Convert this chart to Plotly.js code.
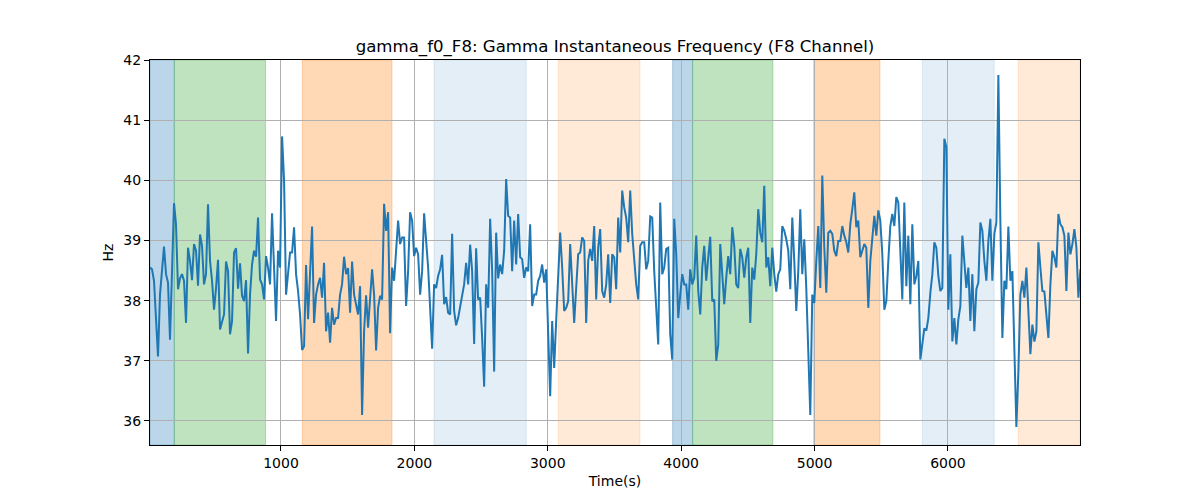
<!DOCTYPE html>
<html>
<head>
<meta charset="utf-8">
<script src="https://cdn.plot.ly/plotly-3.0.1.min.js"></script>
<style>
	html, body { margin: 0; padding: 0; background: #fff; }
	#chart { width: 1200px; height: 500px; }
</style>
</head>
<body>
<div id="chart"></div>
<script>
// time axis: first sample and sample step (s)
const timeStart = 18;
const timeStep = 15;

// gamma instantaneous frequency, F8 channel (Hz)
const freqHz = [
	// 18 .. 918
	38.55, 38.52, 38.33, 37.66, 37.07, 38.1, 38.55, 38.9, 38.44, 38.3,
	37.35, 38.44, 39.62, 39.27, 38.19, 38.37, 38.44, 38.33, 37.63, 38.88,
	38.66, 38.34, 38.94, 38.83, 38.25, 39.1, 38.91, 38.27, 38.44, 39.6,
	38.66, 38.33, 37.85, 38.21, 38.68, 37.52, 37.66, 37.77, 38.65, 38.49,
	37.44, 37.66, 38.8, 38.87, 38.2, 38.62, 38.08, 37.99, 38.34, 37.12,
	38.1, 38.6, 38.83, 38.73, 39.38, 38.35, 38.27, 38.02, 38.74, 38.55,
	38.27,
	// 933 .. 1818
	39.45, 38.55, 37.66, 38.83, 38.55, 40.73, 40.0, 38.1, 38.44, 38.8,
	38.8, 39.22, 38.44, 38.16, 37.77, 37.18, 37.24, 38.59, 37.69, 38.49,
	39.23, 37.63, 38.1, 38.27, 38.38, 38.05, 38.63, 37.49, 37.8, 37.3,
	37.88, 37.6, 37.71, 37.71, 38.1, 38.27, 38.73, 38.44, 38.54, 37.8,
	38.65, 38.1, 37.96, 37.77, 38.24, 36.1, 37.49, 38.09, 37.55, 38.1,
	38.52, 38.1, 37.17, 37.88, 38.08, 38.02, 39.61, 39.16, 39.47, 37.46,
	// 1833 .. 2718
	38.55, 38.33, 38.88, 39.33, 38.94, 39.05, 39.05, 37.91, 38.49, 39.47,
	39.33, 38.74, 38.88, 38.77, 38.1, 38.49, 39.45, 38.99, 38.55, 37.88,
	37.2, 38.27, 38.21, 38.41, 38.52, 38.76, 37.94, 38.06, 37.8, 37.77,
	39.11, 37.83, 37.59, 37.71, 37.91, 38.13, 38.27, 38.63, 38.27, 38.93,
	38.49, 37.28, 38.87, 38.02, 38.05, 37.38, 36.57, 38.27, 37.88, 39.36,
	38.49, 36.82, 39.13, 38.37, 38.6, 38.44, 38.83, 40.02, 39.41, 39.38,
	// 2733 .. 3603
	38.49, 39.33, 38.6, 39.44, 38.72, 38.69, 38.38, 38.55, 38.49, 39.27,
	37.91, 38.1, 38.1, 38.33, 38.41, 38.6, 38.3, 38.52, 37.55, 36.41,
	37.66, 36.88, 37.66, 38.55, 39.13, 38.55, 37.83, 37.88, 37.99, 38.94,
	38.21, 37.63, 38.21, 38.77, 38.8, 39.05, 38.99, 37.63, 38.66, 38.86,
	38.66, 39.24, 38.02, 38.88, 39.19, 38.16, 38.05, 38.27, 38.77, 37.96,
	38.77, 38.72, 38.19, 39.38, 38.8, 39.83, 39.55, 39.38, 38.97,
	// 3618 .. 4503
	39.83, 39.11, 38.66, 38.27, 38.02, 38.91, 38.97, 38.97, 38.52, 38.66,
	39.4, 39.38, 38.49, 37.77, 37.27, 39.63, 38.44, 38.55, 38.86, 38.88,
	37.44, 37.02, 39.36, 38.77, 37.71, 38.1, 38.44, 38.27, 38.27, 37.85,
	38.52, 38.27, 38.38, 39.08, 38.16, 37.77, 38.55, 38.91, 38.33, 38.72,
	39.06, 37.99, 38.02, 37.0, 37.27, 38.94, 38.49, 37.94, 38.38, 38.74,
	38.44, 39.22, 38.91, 38.27, 38.21, 38.86, 38.72, 38.38, 38.72, 38.88,
	// 4518 .. 5403
	37.63, 38.55, 38.35, 38.77, 39.52, 39.13, 38.97, 39.91, 38.55, 38.72,
	38.24, 38.88, 38.44, 38.15, 38.44, 38.52, 39.24, 39.16, 39.02, 38.83,
	38.19, 39.38, 38.66, 37.83, 38.49, 39.52, 38.44, 39.02, 38.21, 36.99,
	36.1, 38.1, 37.96, 38.66, 39.24, 38.21, 40.08, 38.88, 38.13, 39.13,
	39.16, 39.11, 38.83, 38.74, 38.99, 38.99, 39.24, 39.08, 38.97, 38.8,
	39.27, 39.52, 39.8, 39.22, 39.33, 38.72, 38.83, 38.94, 38.88, 37.88,
	// 5418 .. 6318
	38.66, 38.99, 39.41, 39.08, 39.5, 39.33, 38.77, 37.85, 37.99, 38.66,
	39.24, 39.44, 39.24, 39.72, 39.63, 38.83, 38.02, 39.63, 38.24, 39.08,
	37.94, 39.27, 38.27, 38.41, 38.66, 37.02, 37.27, 37.54, 37.5, 37.71,
	38.13, 38.44, 38.97, 38.88, 38.41, 38.16, 38.21, 40.69, 40.55, 37.85,
	38.77, 37.32, 37.71, 37.27, 37.69, 37.91, 39.08, 38.66, 38.21, 38.55,
	37.66, 38.44, 37.49, 38.19, 38.3, 39.3, 39.16, 38.66, 38.33, 38.99,
	39.36,
	// 6333 .. 6993
	38.33, 39.11, 39.3, 41.75, 39.33, 37.38, 38.33, 38.19, 39.23, 38.33,
	38.49, 37.1, 35.9, 36.82, 38.1, 38.33, 38.05, 38.55, 37.83, 37.11,
	37.6, 37.32, 37.49, 38.97, 38.55, 38.16, 38.15, 37.77, 37.38, 38.27,
	38.83, 38.72, 38.55, 39.44, 39.27, 39.22, 39.08, 38.16, 39.13, 38.77,
	38.94, 39.19, 38.88, 38.05, 38.52
];

// shaded segments (start, end in s) and their kind
const spanStart = [18, 200, 1160, 2147, 3079, 3936, 4086, 4993, 5808, 6527];
const spanEnd = [200, 884, 1832, 2839, 3691, 4086, 4688, 5490, 6347, 6990];
const spanKind = ['blue', 'green', 'orange', 'paleBlue', 'paleOrange',
	'blue', 'green', 'orange', 'paleBlue', 'paleOrange'];

const spanColors = {
	blue: 'rgba(31,119,180,0.3)',
	green: 'rgba(44,160,44,0.3)',
	orange: 'rgba(255,127,14,0.3)',
	paleBlue: 'rgba(31,119,180,0.12)',
	paleOrange: 'rgba(255,127,14,0.16)',
};

const shapes = spanStart.map((x0, i) => ({
	type: 'rect',
	xref: 'x',
	yref: 'paper',
	x0: x0,
	x1: spanEnd[i],
	y0: 0,
	y1: 1,
	fillcolor: spanColors[spanKind[i]],
	line: { color: spanColors[spanKind[i]], width: 1 },
	layer: 'below',
}));

const trace = {
	type: 'scatter',
	mode: 'lines',
	x0: timeStart,
	dx: timeStep,
	y: freqHz,
	line: { color: '#1f77b4', width: 2 },
	hoverinfo: 'x+y',
	showlegend: false,
};

const axisFont = { family: 'DejaVu Sans, sans-serif', size: 14, color: '#000' };

const layout = {
	width: 1200,
	height: 500,
	margin: { l: 150, r: 120, t: 60, b: 55, pad: 0 },
	paper_bgcolor: '#fff',
	plot_bgcolor: '#fff',
	font: axisFont,
	showlegend: false,
	title: {
		text: 'gamma_f0_F8: Gamma Instantaneous Frequency (F8 Channel)',
		font: { family: 'DejaVu Sans, sans-serif', size: 16.6, color: '#000' },
		x: 0.5,
		xref: 'paper',
		y: 0.908,
		yref: 'container',
		yanchor: 'middle',
	},
	xaxis: {
		range: [18, 6990],
		tickvals: [1000, 2000, 3000, 4000, 5000, 6000],
		ticks: 'outside',
		ticklen: 5,
		tickwidth: 1,
		tickcolor: '#000',
		showgrid: true,
		gridcolor: '#b0b0b0',
		gridwidth: 1,
		zeroline: false,
		showline: true,
		linecolor: '#000',
		linewidth: 1,
		mirror: true,
		tickfont: axisFont,
		title: { text: 'Time(s)', font: axisFont, standoff: 6 },
	},
	yaxis: {
		range: [35.6, 42],
		tickvals: [36, 37, 38, 39, 40, 41, 42],
		ticks: 'outside',
		ticklen: 5,
		tickwidth: 1,
		tickcolor: '#000',
		showgrid: true,
		gridcolor: '#b0b0b0',
		gridwidth: 1,
		zeroline: false,
		showline: true,
		linecolor: '#000',
		linewidth: 1,
		mirror: true,
		tickfont: axisFont,
		title: { text: 'Hz', font: axisFont, standoff: 6 },
	},
	shapes: shapes,
};

Plotly.newPlot('chart', [trace], layout, { displayModeBar: false, staticPlot: true });
</script>
</body>
</html>
